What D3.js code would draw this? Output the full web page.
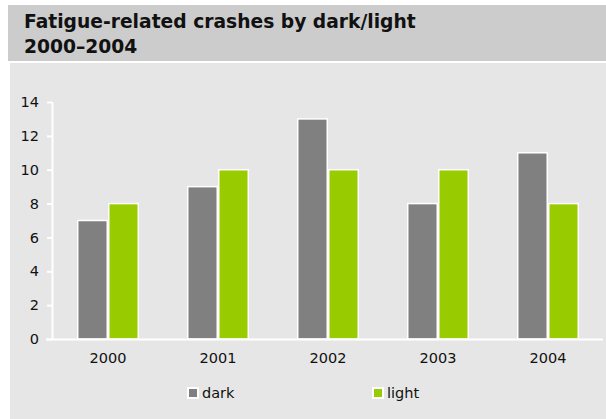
<!DOCTYPE html>
<html>
<head>
<meta charset="utf-8">
<script src="https://cdn.jsdelivr.net/npm/d3@7/dist/d3.min.js"></script>
<style>
  html, body { margin: 0; padding: 0; background: #ffffff; }
  svg { display: block; }
  text { font-family: "DejaVu Sans", Verdana, sans-serif; fill: #111111; }
</style>
</head>
<body>
<svg id="chart" width="606" height="419"></svg>
<script>
// Chart data
const titleLines = ["Fatigue-related crashes by dark/light", "2000\u20132004"];
const years = ["2000", "2001", "2002", "2003", "2004"];
const seriesNames = ["dark", "light"];
const darkValues = [7, 9, 13, 8, 11];
const lightValues = [8, 10, 10, 10, 8];
const yTicks = [0, 2, 4, 6, 8, 10, 12, 14];

const colors = { dark: "#808080", light: "#99cc00" };
const rows = years.map((y, i) => ({ year: y, dark: darkValues[i], light: lightValues[i] }));

const svg = d3.select("#chart");
const W = 606, H = 419;
const font = "'DejaVu Sans', Verdana, sans-serif";

// Title band and plot panel
svg.append("rect").attr("x", 8).attr("y", 5).attr("width", W - 8).attr("height", 56).attr("fill", "#cccccc");
svg.append("rect").attr("x", 10).attr("y", 63).attr("width", W - 10).attr("height", H - 63).attr("fill", "#e6e6e6");

svg.append("g").selectAll("text").data(titleLines).join("text")
  .attr("x", 24).attr("y", (d, i) => 28 + i * 24.5)
  .attr("font-size", "18.7px").attr("font-weight", "bold")
  .text(d => d);

// Scales
const x0 = d3.scaleBand().domain(years).range([53, 603]).paddingInner(0.436).paddingOuter(0.218);
const x1 = d3.scaleBand().domain(seriesNames).range([0, x0.bandwidth()]);
const y = d3.scaleLinear().domain([0, 14]).range([339, 102]);

// Bars
svg.append("g").selectAll("g").data(rows).join("g")
  .attr("transform", d => `translate(${x0(d.year)},0)`)
  .selectAll("rect")
  .data(d => seriesNames.map(k => ({ key: k, value: d[k] })))
  .join("rect")
  .attr("x", d => x1(d.key) + 0.75)
  .attr("width", x1.bandwidth() - 1.5)
  .attr("y", d => y(d.value))
  .attr("height", d => y(0) - y(d.value))
  .attr("fill", d => colors[d.key])
  .attr("stroke", "#ffffff")
  .attr("stroke-width", 1.5);

// Y axis
const yAxis = svg.append("g").attr("transform", "translate(52,0)")
  .call(d3.axisLeft(y).tickValues(yTicks).tickSize(5).tickPadding(8).tickFormat(d3.format("d")));
yAxis.select(".domain").attr("stroke", "#ffffff").attr("stroke-width", 2).attr("d", `M0.5,${y(14)}V${y(0)}`);
yAxis.selectAll(".tick line").attr("stroke", "#ffffff").attr("stroke-width", 2);
yAxis.selectAll(".tick text").attr("font-size", "14.5px").attr("fill", "#111111").attr("font-family", font);

// X axis
const xAxis = svg.append("g").attr("transform", `translate(0,${y(0)})`)
  .call(d3.axisBottom(x0).tickSize(0).tickPadding(14));
xAxis.select(".domain").attr("stroke", "#ffffff").attr("stroke-width", 2).attr("d", `M46,0.5H603`);
xAxis.selectAll(".tick text").attr("font-size", "14.5px").attr("fill", "#111111").attr("font-family", font);

// Legend
const legendX = [187, 372];
const legend = svg.append("g").selectAll("g").data(seriesNames).join("g")
  .attr("transform", (d, i) => `translate(${legendX[i]},387)`);
legend.append("rect").attr("width", 12).attr("height", 12).attr("fill", "#ffffff");
legend.append("rect").attr("x", 2).attr("y", 2).attr("width", 8).attr("height", 8).attr("fill", d => colors[d]);
legend.append("text").attr("x", 15).attr("y", 11).attr("font-size", "14.5px").text(d => d);
</script>
</body>
</html>
